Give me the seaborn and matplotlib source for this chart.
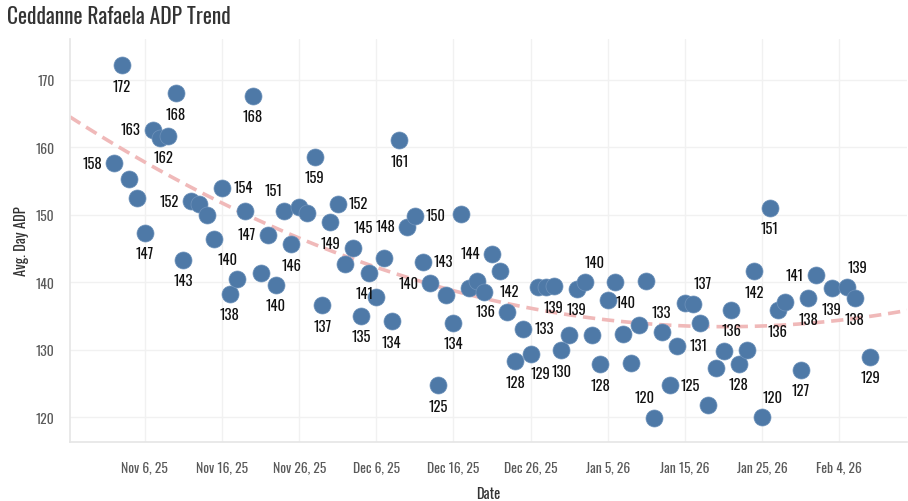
import pandas as pd
import numpy as np
import matplotlib
matplotlib.use("Agg")
import matplotlib.pyplot as plt
import matplotlib.dates as mdates
import seaborn as sns

# Data
dates = [
    "2025-11-02", "2025-11-03", "2025-11-04", "2025-11-05", "2025-11-06", "2025-11-07",
    "2025-11-08", "2025-11-09", "2025-11-10", "2025-11-11", "2025-11-12", "2025-11-13",
    "2025-11-14", "2025-11-15", "2025-11-16", "2025-11-17", "2025-11-18", "2025-11-19",
    "2025-11-20", "2025-11-21", "2025-11-22", "2025-11-23", "2025-11-24", "2025-11-25",
    "2025-11-26", "2025-11-27", "2025-11-28", "2025-11-29", "2025-11-30", "2025-12-01",
    "2025-12-02", "2025-12-03", "2025-12-04", "2025-12-05", "2025-12-06", "2025-12-07",
    "2025-12-08", "2025-12-09", "2025-12-10", "2025-12-11", "2025-12-12", "2025-12-13",
    "2025-12-14", "2025-12-15", "2025-12-16", "2025-12-17", "2025-12-18", "2025-12-19",
    "2025-12-20", "2025-12-21", "2025-12-22", "2025-12-23", "2025-12-24", "2025-12-25",
    "2025-12-26", "2025-12-27", "2025-12-28", "2025-12-29", "2025-12-30", "2025-12-31",
    "2026-01-01", "2026-01-02", "2026-01-03", "2026-01-04", "2026-01-05", "2026-01-06",
    "2026-01-07", "2026-01-08", "2026-01-09", "2026-01-10", "2026-01-11", "2026-01-12",
    "2026-01-13", "2026-01-14", "2026-01-15", "2026-01-16", "2026-01-17", "2026-01-18",
    "2026-01-19", "2026-01-20", "2026-01-21", "2026-01-22", "2026-01-23", "2026-01-24",
    "2026-01-25", "2026-01-26", "2026-01-27", "2026-01-28", "2026-01-30", "2026-01-31",
    "2026-02-01", "2026-02-03", "2026-02-05", "2026-02-06", "2026-02-08",
]
adp = [
    157.6, 172.1, 155.3, 152.5, 147.3, 162.6,
    161.4, 161.6, 168.0, 143.3, 152.0, 151.6,
    149.9, 146.4, 154.0, 138.3, 140.4, 150.6,
    167.6, 141.4, 147.0, 139.6, 150.6, 145.6,
    151.2, 150.2, 158.6, 136.6, 148.9, 151.6,
    142.7, 145.1, 135.0, 141.4, 137.8, 143.5,
    134.2, 161.0, 148.2, 149.8, 143.0, 139.8,
    124.7, 138.1, 134.0, 150.1, 139.1, 140.1,
    138.6, 144.2, 141.6, 135.6, 128.3, 133.1,
    129.4, 139.3, 139.3, 139.4, 129.9, 132.2,
    139.0, 140.0, 132.2, 127.8, 137.3, 140.0,
    132.3, 128.0, 133.7, 140.2, 119.9, 132.6,
    124.7, 130.6, 136.9, 136.8, 133.9, 121.8,
    127.3, 129.8, 135.9, 127.9, 129.9, 141.6,
    120.0, 151.0, 135.8, 137.0, 127.0, 137.6,
    141.0, 139.1, 139.2, 137.6, 128.9,
]

# which points carry a value label, and on which side of the dot it sits
label_side = {
    "2025-11-02": "l", "2025-11-03": "b", "2025-11-06": "b", "2025-11-07": "l",
    "2025-11-09": "bl", "2025-11-10": "b", "2025-11-11": "b", "2025-11-12": "l",
    "2025-11-16": "r", "2025-11-17": "b", "2025-11-18": "al", "2025-11-20": "b",
    "2025-11-22": "l", "2025-11-23": "b", "2025-11-24": "al", "2025-11-25": "b",
    "2025-11-28": "b", "2025-11-29": "b", "2025-11-30": "b", "2025-12-01": "r",
    "2025-12-03": "ar", "2025-12-04": "b", "2025-12-05": "bl", "2025-12-08": "b",
    "2025-12-09": "b", "2025-12-10": "l", "2025-12-11": "r", "2025-12-12": "r",
    "2025-12-13": "l", "2025-12-14": "b", "2025-12-16": "b", "2025-12-21": "l",
    "2025-12-22": "br", "2025-12-23": "l", "2025-12-24": "b", "2025-12-25": "r",
    "2025-12-26": "br", "2025-12-29": "b", "2025-12-30": "b", "2026-01-01": "b",
    "2026-01-02": "ar", "2026-01-04": "b", "2026-01-06": "br", "2026-01-11": "al",
    "2026-01-12": "a", "2026-01-13": "r", "2026-01-14": "r", "2026-01-16": "ar",
    "2026-01-21": "b", "2026-01-22": "b", "2026-01-24": "b", "2026-01-25": "ar",
    "2026-01-26": "b", "2026-01-27": "b", "2026-01-30": "b", "2026-01-31": "b",
    "2026-02-01": "l", "2026-02-03": "b", "2026-02-05": "ar", "2026-02-06": "b",
    "2026-02-08": "b",
}
offsets = {
    "b": (0, -21), "a": (0, 20), "l": (-22, 0), "r": (21, 0),
    "al": (-10, 20), "ar": (10, 20), "bl": (-4, -21), "br": (10, -20),
}

df = pd.DataFrame({"Date": pd.to_datetime(dates), "ADP": adp})
df["x"] = mdates.date2num(df["Date"])

sns.set_theme(style="white")
plt.rcParams["font.family"] = ["Oswald", "Roboto Condensed", "DejaVu Sans"]

fig = plt.figure(figsize=(9.08, 5.02), dpi=100)
ax = fig.add_axes([0.077, 0.1175, 0.922, 0.8025])

ax.set_xlim(mdates.date2num(pd.Timestamp("2025-10-27 07:00")),
            mdates.date2num(pd.Timestamp("2026-02-12 19:00")))
ax.set_ylim(116.3, 176)

# quadratic trend, stretched across the whole axis
sns.regplot(data=df, x="x", y="ADP", order=2, ci=None, scatter=False, truncate=False,
            ax=ax, line_kws={"color": "#f0b9b9", "lw": 2.6, "dashes": (3.4, 1.9), "zorder": 1})

sns.scatterplot(data=df, x="x", y="ADP", ax=ax, s=150, color="#4e79a7",
                edgecolor="#6f93bb", linewidth=0.5, zorder=3)

for d, v in zip(dates, adp):
    if d in label_side:
        dx, dy = offsets[label_side[d]]
        ax.annotate(f"{int(round(v))}", (mdates.date2num(pd.Timestamp(d)), v),
                    xytext=(dx, dy), textcoords="offset pixels",
                    ha="center", va="center", fontsize=10.5, color="#111111", zorder=4)

ticks = pd.date_range("2025-11-06", "2026-02-04", freq="10D")
ax.set_xticks(mdates.date2num(ticks))
ax.set_xticklabels([f"{t:%b} {t.day}, {t:%y}" for t in ticks])
ax.set_yticks([120, 130, 140, 150, 160, 170])

ax.grid(True, color="#f1f1f1", linewidth=1)
for side in ["top", "right"]:
    ax.spines[side].set_visible(False)
for side in ["left", "bottom"]:
    ax.spines[side].set_color("#e6e6e6")
ax.tick_params(axis="both", colors="#5a5a5a", labelsize=9.8, length=5, width=1)
ax.tick_params(axis="x", color="#e6e6e6", pad=8)
ax.tick_params(axis="y", color="#ffffff", pad=6)

ax.set_xlabel("Date", fontsize=10.5, color="#333333", labelpad=9)
ax.set_ylabel("Avg. Day ADP", fontsize=10.5, color="#333333", labelpad=5)

fig.text(0.008, 0.988, "Ceddanne Rafaela ADP Trend", fontsize=15.5, color="#333333",
         ha="left", va="top")

fig.savefig("out.png", dpi=100)
